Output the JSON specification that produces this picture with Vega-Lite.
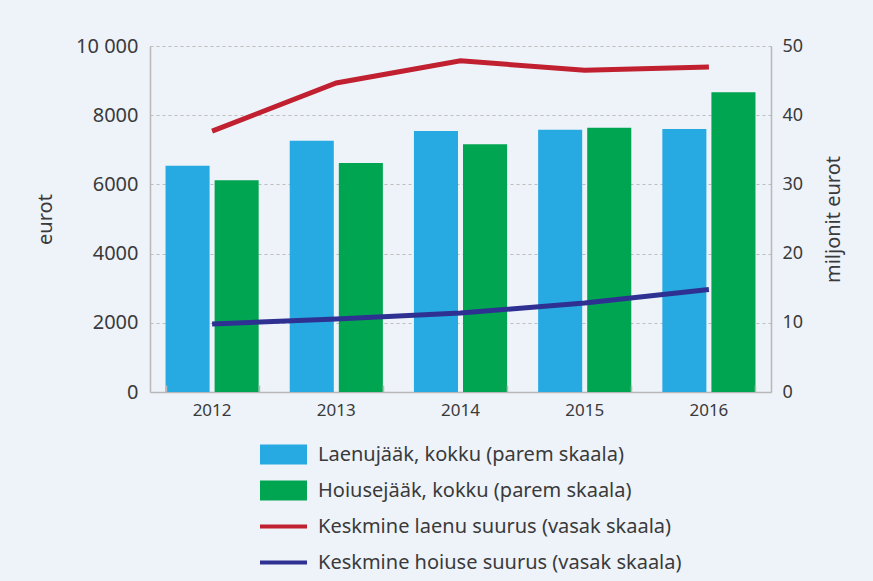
{
  "$schema": "https://vega.github.io/schema/vega-lite/v6.json",
  "width": 621,
  "height": 346,
  "autosize": {"type": "none"},
  "padding": {"left": 150, "top": 46, "right": 102, "bottom": 189},
  "background": "#eef3fa",
  "config": {
    "font": "Noto Sans",
    "view": {"stroke": null},
    "axis": {
      "labelFont": "Noto Sans",
      "titleFont": "Noto Sans",
      "labelFontSize": 18,
      "titleFontSize": 20,
      "labelColor": "#3a3a3a",
      "titleColor": "#3a3a3a",
      "titleFontWeight": "normal",
      "domainColor": "#b8b8b8",
      "tickColor": "#b8b8b8",
      "domainWidth": 1.5
    }
  },
  "datasets": {
    "bars": [
      {"year": "2012", "series": "Laenujääk, kokku (parem skaala)", "value": 32.7},
      {"year": "2012", "series": "Hoiusejääk, kokku (parem skaala)", "value": 30.6},
      {"year": "2013", "series": "Laenujääk, kokku (parem skaala)", "value": 36.3},
      {"year": "2013", "series": "Hoiusejääk, kokku (parem skaala)", "value": 33.1},
      {"year": "2014", "series": "Laenujääk, kokku (parem skaala)", "value": 37.7},
      {"year": "2014", "series": "Hoiusejääk, kokku (parem skaala)", "value": 35.8},
      {"year": "2015", "series": "Laenujääk, kokku (parem skaala)", "value": 37.9},
      {"year": "2015", "series": "Hoiusejääk, kokku (parem skaala)", "value": 38.2},
      {"year": "2016", "series": "Laenujääk, kokku (parem skaala)", "value": 38.0},
      {"year": "2016", "series": "Hoiusejääk, kokku (parem skaala)", "value": 43.3}
    ],
    "lines": [
      {"year": "2012", "series": "Keskmine laenu suurus (vasak skaala)", "value": 7540},
      {"year": "2013", "series": "Keskmine laenu suurus (vasak skaala)", "value": 8930},
      {"year": "2014", "series": "Keskmine laenu suurus (vasak skaala)", "value": 9570},
      {"year": "2015", "series": "Keskmine laenu suurus (vasak skaala)", "value": 9300},
      {"year": "2016", "series": "Keskmine laenu suurus (vasak skaala)", "value": 9390},
      {"year": "2012", "series": "Keskmine hoiuse suurus (vasak skaala)", "value": 1965},
      {"year": "2013", "series": "Keskmine hoiuse suurus (vasak skaala)", "value": 2110},
      {"year": "2014", "series": "Keskmine hoiuse suurus (vasak skaala)", "value": 2280},
      {"year": "2015", "series": "Keskmine hoiuse suurus (vasak skaala)", "value": 2570},
      {"year": "2016", "series": "Keskmine hoiuse suurus (vasak skaala)", "value": 2960}
    ]
  },
  "layer": [
    {
      "data": {"name": "bars"},
      "mark": {"type": "bar"},
      "encoding": {
        "x": {
          "field": "year",
          "type": "nominal",
          "scale": {"paddingInner": 0.25, "paddingOuter": 0.125},
          "axis": {
            "orient": "bottom",
            "title": null,
            "labels": false,
            "domain": false,
            "ticks": true,
            "tickBand": "extent",
            "tickSize": 7,
            "tickWidth": 1.5,
            "offset": -7,
            "grid": false,
            "zindex": 1
          }
        },
        "xOffset": {
          "field": "series",
          "type": "nominal",
          "scale": {
            "domain": ["Laenujääk, kokku (parem skaala)", "Hoiusejääk, kokku (parem skaala)"],
            "paddingInner": 0.102,
            "paddingOuter": 0
          }
        },
        "y": {
          "field": "value",
          "type": "quantitative",
          "scale": {"domain": [0, 50], "nice": false},
          "axis": {
            "orient": "right",
            "values": [0, 10, 20, 30, 40, 50],
            "title": "miljonit eurot",
            "titleAngle": 270,
            "titlePadding": 41,
            "grid": false,
            "ticks": false,
            "tickSize": 0,
            "labelPadding": 11
          }
        },
        "color": {
          "field": "series",
          "type": "nominal",
          "scale": {
            "domain": [
              "Laenujääk, kokku (parem skaala)",
              "Hoiusejääk, kokku (parem skaala)",
              "Keskmine laenu suurus (vasak skaala)",
              "Keskmine hoiuse suurus (vasak skaala)"
            ],
            "range": ["#27a9e1", "#00a551", "#c0202f", "#2e3192"]
          },
          "legend": {
            "orient": "none",
            "legendX": 110,
            "legendY": 385,
            "direction": "vertical",
            "title": null,
            "symbolType": "square",
            "symbolSize": 2209,
            "symbolStrokeWidth": 0,
            "symbolOpacity": 1,
            "labelFont": "Noto Sans",
            "labelFontSize": 20,
            "labelColor": "#3a3a3a",
            "labelLimit": 600,
            "labelOffset": 11,
            "rowPadding": 2,
            "encode": {
              "symbols": {
                "update": {
                  "shape": {"signal": "test(/parem/, datum.value) ? 'M-1,-0.43H1V0.43H-1Z' : 'M-1,-0.085H1V0.085H-1Z'"}
                }
              }
            }
          }
        }
      }
    },
    {
      "data": {"name": "lines"},
      "mark": {"type": "line", "strokeWidth": 5},
      "encoding": {
        "x": {
          "field": "year",
          "type": "nominal",
          "axis": {
            "orient": "bottom",
            "title": null,
            "labelAngle": 0,
            "labelFontSize": 17,
            "ticks": false,
            "tickSize": 0,
            "labelPadding": 10,
            "grid": false
          }
        },
        "y": {
          "field": "value",
          "type": "quantitative",
          "scale": {"domain": [0, 10000], "nice": false},
          "axis": {
            "orient": "left",
            "values": [0, 2000, 4000, 6000, 8000, 10000],
            "format": "d",
            "labelExpr": "datum.value == 10000 ? '10 000' : datum.label",
            "labelFontSize": 20,
            "title": "eurot",
            "titlePadding": 20,
            "grid": true,
            "gridDash": [3, 3],
            "gridColor": "#bdbdbd",
            "gridWidth": 1.2,
            "ticks": false,
            "tickSize": 0,
            "labelPadding": 12
          }
        },
        "color": {"field": "series", "type": "nominal"}
      }
    }
  ],
  "resolve": {"scale": {"y": "independent"}, "axis": {"x": "independent"}}
}
